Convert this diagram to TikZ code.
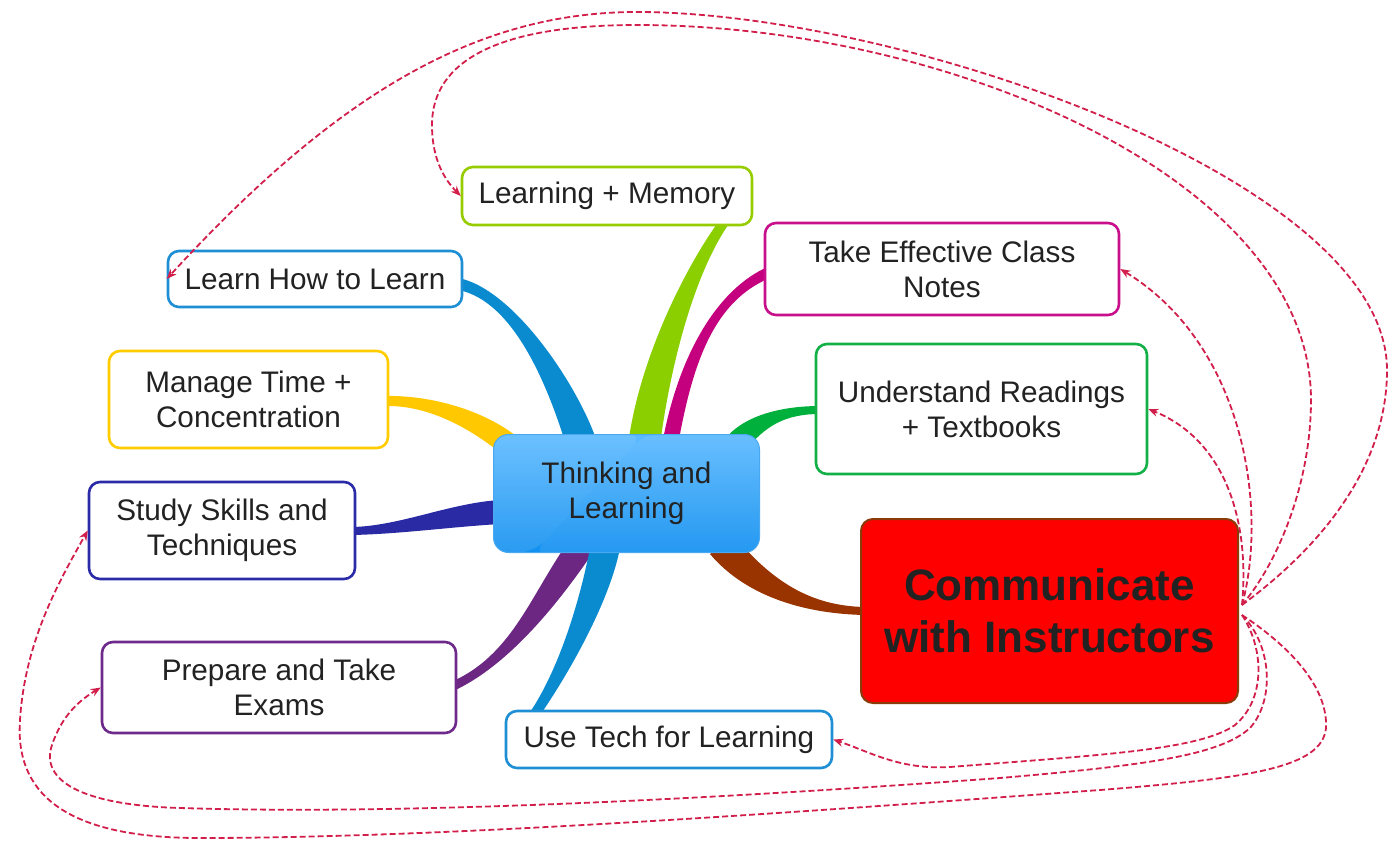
\documentclass[tikz,border=0pt]{standalone}
\usepackage{fontspec}
\setmainfont{Liberation Sans}
\usetikzlibrary{calc,arrows.meta}
\pgfdeclarelayer{bg}
\pgfsetlayers{bg,main}

\definecolor{ink}{HTML}{222222}
\definecolor{linkred}{HTML}{D21E4A}
\definecolor{cLM}{HTML}{96CC00}
\definecolor{bLM}{HTML}{8CCF00}
\definecolor{cBlue}{HTML}{1E8FD5}
\definecolor{bBlue}{HTML}{0A8BD0}
\definecolor{cMTC}{HTML}{FFCC00}
\definecolor{bMTC}{HTML}{FFC800}
\definecolor{cSSK}{HTML}{2B2BA8}
\definecolor{bSSK}{HTML}{2A2AA5}
\definecolor{cPTE}{HTML}{6E2A8A}
\definecolor{bPTE}{HTML}{6C2782}
\definecolor{cTEN}{HTML}{C8108C}
\definecolor{bTEN}{HTML}{C4007E}
\definecolor{cURT}{HTML}{12B046}
\definecolor{bURT}{HTML}{00B03C}
\definecolor{cCOM}{HTML}{8B3A0A}
\definecolor{bCOM}{HTML}{993300}
\definecolor{hubTop}{HTML}{5CBAFF}
\definecolor{hubBot}{HTML}{1290F0}
\definecolor{hubEdge}{HTML}{4AA8F0}

\newcommand\mmtopic{\fontsize{29.7}{35}\selectfont}
\newcommand\mmbig{\fontsize{44}{52}\selectfont\bfseries}

% tapered branch: colour, base, control 1, control 2, tip, base half-offset, tip half-offset
\newcommand\limb[7]{%
  \fill[#1] ($(#2)+(#6)$) .. controls ($(#3)+(#6)$) and ($(#4)+(#7)$) .. ($(#5)+(#7)$)
    -- ($(#5)-(#7)$) .. controls ($(#4)-(#7)$) and ($(#3)-(#6)$) .. ($(#2)-(#6)$) -- cycle;}

\begin{document}
\begin{tikzpicture}[x=1pt,y=-1pt,
  topic/.style={draw, rounded corners=11pt, fill=white, line width=2.6pt,
    align=center, inner sep=0pt, text=ink, font=\mmtopic},
  link/.style={draw=linkred, line width=1.8pt, dash pattern=on 6pt off 3pt,
    -{Stealth[length=10pt,width=8pt]}}]
\useasboundingbox (0,0) rectangle (1393,843);

% central topic
\node[rounded corners=15pt, top color=hubTop, bottom color=hubBot, draw=hubEdge,
  line width=1pt, minimum width=266pt, minimum height=118pt, inner sep=0pt,
  align=center, text=ink, font=\mmtopic,
  path picture={\fill[white,opacity=0.10]
    (path picture bounding box.north west) -- ($(path picture bounding box.north west)+(150,0)$)
    -- ($(path picture bounding box.south west)+(40,0)$) -- (path picture bounding box.south west) -- cycle;
    \fill[white,opacity=0.08]
    ($(path picture bounding box.north west)+(150,0)$) -- (path picture bounding box.north east)
    -- ($(path picture bounding box.north east)+(0,30)$) .. controls (680,470) and (600,520) .. ($(path picture bounding box.south west)+(40,0)$) -- cycle;}]
  (ctr) at (626.5,493.5) {Thinking and\\Learning};

% subtopics
\node[topic, draw=cLM, minimum width=290pt, minimum height=58pt] (lm) at (607,196) {Learning + Memory};
\node[topic, draw=cBlue, minimum width=294pt, minimum height=56pt] (lhl) at (315,279) {Learn How to Learn};
\node[topic, draw=cMTC, minimum width=279pt, minimum height=97pt] (mtc) at (248.5,399.5) {Manage Time +\\Concentration};
\node[topic, draw=cSSK, minimum width=266pt, minimum height=97pt] (ssk) at (222,530.5) {Study Skills and\\Techniques};
\node[topic, draw=cPTE, minimum width=354pt, minimum height=91pt] (pte) at (279,687.5) {Prepare and Take\\Exams};
\node[topic, draw=cBlue, minimum width=326pt, minimum height=57pt] (utl) at (669,739.5) {Use Tech for Learning};
\node[topic, draw=cTEN, minimum width=354pt, minimum height=92pt] (ten) at (942,269) {Take Effective Class\\Notes};
\node[topic, draw=cURT, minimum width=331pt, minimum height=130pt] (urt) at (981.5,409) {Understand Readings\\+ Textbooks};
\node[draw=cCOM, fill=red, rounded corners=12pt, line width=2pt, minimum width=377pt,
  minimum height=184pt, inner sep=0pt, align=center, text=ink, font=\mmbig]
  (com) at (1049.5,611) {Communicate\\with Instructors};

% branches from the central topic
\begin{pgfonlayer}{bg}
  \coordinate (lmA) at ($(ctr.north)+(17.5,11)$);   \coordinate (lmB) at ($(lm.south)+(117,-4)$);
  \coordinate (tenA) at ($(ctr.north)+(43.5,11)$);  \coordinate (tenB) at ($(ten.west)+(6,3)$);
  \coordinate (lhlA) at ($(ctr.north)+(-44.5,11)$); \coordinate (lhlB) at ($(lhl.east)+(-5,5)$);
  \coordinate (mtcA) at ($(ctr.north)+(-111.5,16)$); \coordinate (mtcB) at ($(mtc.east)+(-4,1.5)$);
  \coordinate (sskA) at ($(ctr.west)+(7,18.5)$);    \coordinate (sskB) at ($(ssk.east)+(-4,0.5)$);
  \coordinate (pteA) at ($(ctr.south)+(-46.5,-5)$); \coordinate (pteB) at ($(pte.east)+(-4,-1.5)$);
  \coordinate (utlA) at ($(ctr.south)+(-21.5,-5)$); \coordinate (utlB) at ($(utl.north)+(-134,4)$);
  \coordinate (urtA) at ($(ctr.north)+(108.5,11)$); \coordinate (urtB) at ($(urt.west)+(5,1)$);
  \coordinate (comA) at ($(ctr.south)+(95.5,-8)$);  \coordinate (comB) at ($(com.west)+(5,0)$);
  \limb{bLM}{lmA}{655,360}{690,270}{lmB}{16,0}{6,0}
  \limb{bTEN}{tenA}{685,360}{715,295}{tenB}{8,0}{0,6}
  \limb{bBlue}{lhlA}{565,390}{515,295}{lhlB}{16,0}{0,-6}
  \limb{bMTC}{mtcA}{480,420}{430,400}{mtcB}{6,-10}{0,-5}
  \limb{bSSK}{sskA}{450,515}{400,530}{sskB}{0,-12}{0,-4}
  \limb{bPTE}{pteA}{545,600}{510,660}{pteB}{-16,0}{0,-5}
  \limb{bBlue}{utlA}{595,600}{565,670}{utlB}{-15,0}{-6,0}
  \limb{bURT}{urtA}{755,420}{785,410}{urtB}{10,6}{0,4}
  \limb{bCOM}{comA}{760,590}{810,610}{comB}{-12,9}{0,4}
\end{pgfonlayer}

% relationship links
\draw[link] ($(com.east)+(3,-6)$) .. controls (1268,510) and (1245,345) .. (ten.east);
\draw[link] ($(com.east)+(3,-6)$) .. controls (1250,520) and (1225,440) .. (urt.east);
\draw[link] ($(com.east)+(3,-6)$) .. controls (1280,560) and (1311,480) .. (1311,400)
  .. controls (1311,180) and (950,25) .. (637,25)
  .. controls (500,25) and (432,60) .. (432,125)
  .. controls (432,160) and (445,180) .. (lm.west);
\draw[link] ($(com.east)+(3,-6)$) .. controls (1330,540) and (1387,460) .. (1387,370)
  .. controls (1387,180) and (900,12) .. (637,12)
  .. controls (480,12) and (340,90) .. (lhl.west);
\draw[link] ($(com.east)+(3,4)$) .. controls (1295,650) and (1328,690) .. (1326,728)
  .. controls (1322,768) and (1250,778) .. (1100,790)
  .. controls (800,812) and (450,838) .. (200,838)
  .. controls (60,838) and (15,790) .. (20,720)
  .. controls (25,640) and (60,580) .. (ssk.west);
\draw[link] ($(com.east)+(3,4)$) .. controls (1272,645) and (1275,700) .. (1250,728)
  .. controls (1220,755) and (1150,765) .. (1000,778)
  .. controls (700,800) and (400,815) .. (180,808)
  .. controls (80,805) and (40,780) .. (52,745)
  .. controls (62,715) and (80,700) .. (pte.west);
\draw[link] ($(com.east)+(3,4)$) .. controls (1265,650) and (1265,700) .. (1235,725)
  .. controls (1200,750) and (1100,755) .. (950,767)
  .. controls (900,770) and (870,752) .. (utl.east);
\end{tikzpicture}
\end{document}
